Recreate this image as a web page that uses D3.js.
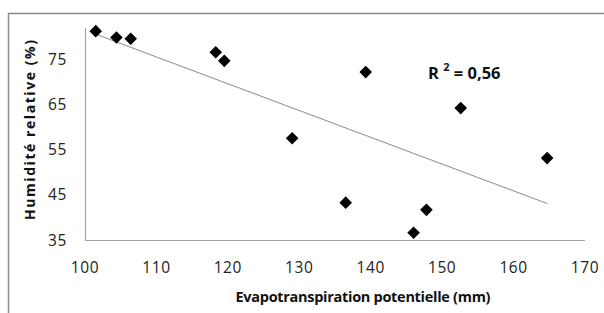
<!DOCTYPE html>
<html>
<head>
<meta charset="utf-8">
<script src="https://cdn.jsdelivr.net/npm/d3@7"></script>
<style>
  html, body { margin: 0; padding: 0; background: #fff; }
  svg { display: block; font-family: 'Open Sans', sans-serif; }
</style>
</head>
<body>
<div id="chart"></div>
<script>
/* ---------- data ---------- */
const etp = [101.5, 104.4, 106.4, 118.3, 119.5, 129.0, 139.3, 152.6, 164.7, 136.5, 147.8, 146.0];
const humidity = [81.4, 80.0, 79.7, 76.7, 74.8, 57.6, 72.3, 64.3, 53.2, 43.3, 41.7, 36.6];
const xTicks = [100, 110, 120, 130, 140, 150, 160, 170];
const yTicks = [35, 45, 55, 65, 75];
const r2Label = '0,56';

const W = 604, H = 313;
const plot = { left: 85, right: 585, top: 28, bottom: 240 };

const svg = d3.select('#chart').append('svg')
  .attr('width', W)
  .attr('height', H);

// outer frame (chart area border, clipped by the window on right/bottom)
svg.append('rect')
  .attr('x', 8.5).attr('y', 13.5)
  .attr('width', 700).attr('height', 400)
  .attr('fill', 'none')
  .attr('stroke', '#8c8c8c')
  .attr('stroke-width', 1.5);

const x = d3.scaleLinear().domain([100, 170]).range([plot.left, plot.right]);
const y = d3.scaleLinear().domain([35, 82.1]).range([plot.bottom, plot.top]);

/* ---------- axes ---------- */
svg.append('line')
  .attr('x1', plot.left + 0.5).attr('x2', plot.left + 0.5)
  .attr('y1', plot.top).attr('y2', plot.bottom + 0.5)
  .attr('stroke', '#a6a6a6').attr('stroke-width', 1.2);

svg.append('line')
  .attr('x1', plot.left).attr('x2', plot.right)
  .attr('y1', plot.bottom + 0.5).attr('y2', plot.bottom + 0.5)
  .attr('stroke', '#a6a6a6').attr('stroke-width', 1.2);

svg.append('g').selectAll('text')
  .data(xTicks)
  .enter().append('text')
  .attr('x', d => x(d))
  .attr('y', 273)
  .attr('text-anchor', 'middle')
  .attr('font-size', 15.5)
  .attr('letter-spacing', 0.6)
  .attr('fill', '#222')
  .text(d => d);

svg.append('g').selectAll('text')
  .data(yTicks)
  .enter().append('text')
  .attr('x', 67)
  .attr('y', d => y(d) + 5.5)
  .attr('text-anchor', 'end')
  .attr('font-size', 15.5)
  .attr('letter-spacing', 0.6)
  .attr('fill', '#222')
  .text(d => d);

/* ---------- trend line (least squares) ---------- */
const mx = d3.mean(etp), my = d3.mean(humidity);
let sxy = 0, sxx = 0;
etp.forEach((v, i) => {
  sxy += (v - mx) * (humidity[i] - my);
  sxx += (v - mx) * (v - mx);
});
const slope = sxy / sxx;
const icpt = my - slope * mx;
const xmin = d3.min(etp), xmax = d3.max(etp);

svg.append('line')
  .attr('x1', x(xmin)).attr('y1', y(icpt + slope * xmin))
  .attr('x2', x(xmax)).attr('y2', y(icpt + slope * xmax))
  .attr('stroke', '#8a8a8a')
  .attr('stroke-width', 1);

/* ---------- points ---------- */
const r = 6.3;
svg.append('g').selectAll('path')
  .data(etp.map((v, i) => [v, humidity[i]]))
  .enter().append('path')
  .attr('transform', d => `translate(${x(d[0])},${y(d[1])})`)
  .attr('d', `M0,${-r}L${r},0L0,${r}L${-r},0Z`)
  .attr('fill', '#000');

/* ---------- R² ---------- */
const rt = svg.append('text')
  .attr('x', 428)
  .attr('y', 79)
  .attr('font-size', 16.5)
  .attr('font-weight', 'bold')
  .attr('fill', '#111');
rt.append('tspan').text('R ');
rt.append('tspan').attr('font-size', 11).attr('dy', -8).text('2');
rt.append('tspan').attr('dy', 8).text(' = ' + r2Label);

/* ---------- axis titles ---------- */
svg.append('text')
  .attr('x', 363)
  .attr('y', 302)
  .attr('text-anchor', 'middle')
  .attr('font-size', 14.5)
  .attr('font-weight', 'bold')
  .attr('fill', '#111')
  .attr('textLength', 255)
  .attr('lengthAdjust', 'spacing')
  .text('Evapotranspiration potentielle (mm)');

svg.append('text')
  .attr('transform', 'translate(35,130) rotate(-90)')
  .attr('text-anchor', 'middle')
  .attr('font-size', 14)
  .attr('font-weight', 'bold')
  .attr('fill', '#111')
  .attr('textLength', 180)
  .attr('lengthAdjust', 'spacing')
  .text('Humidité relative (%)');
</script>
</body>
</html>
